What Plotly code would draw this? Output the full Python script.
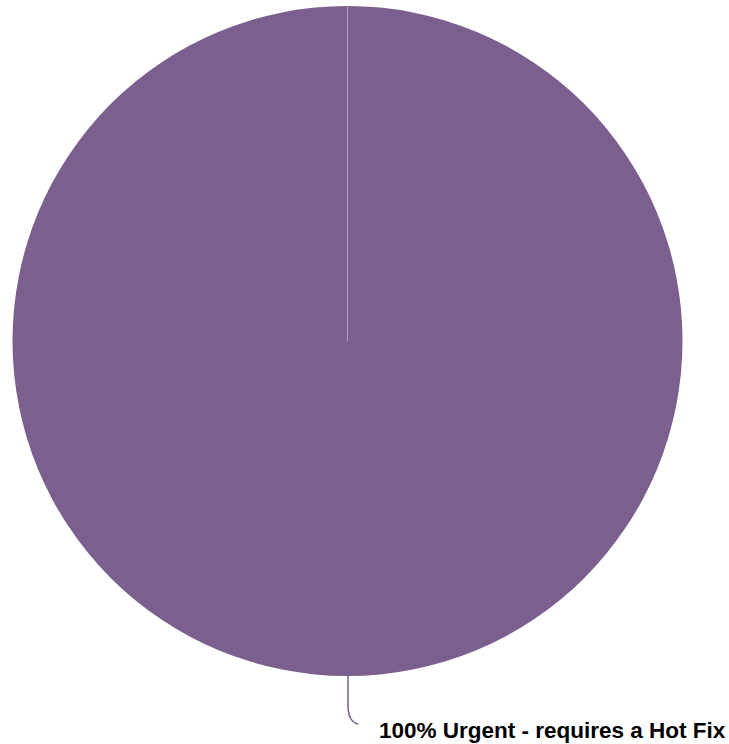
import plotly.graph_objects as go

labels = ["Urgent - requires a Hot Fix"]
values = [100]
colors = ["#7b608f"]

W, H = 729, 744

def px(x):
    return x / W

def py(y):
    return 1 - y / H

fig = go.Figure()
fig.add_trace(go.Pie(
    labels=labels,
    values=values,
    marker=dict(colors=colors, line=dict(width=0)),
    textinfo="none",
    sort=False,
    direction="clockwise",
    showlegend=False,
    domain=dict(x=[px(12), px(683)], y=[py(676), py(6)]),
    hoverinfo="label+percent",
))

# leader line from bottom of pie to the label
path = (f"M {px(348)},{py(676)} L {px(348)},{py(708)} "
        f"Q {px(349)},{py(722)} {px(358)},{py(724)}")
fig.add_shape(type="path", path=path, xref="paper", yref="paper",
              line=dict(color="#7b608f", width=1.5))
# slice boundary line at top
fig.add_shape(type="line", xref="paper", yref="paper",
              x0=px(347.5), y0=py(341), x1=px(347.5), y1=py(6),
              line=dict(color="rgba(255,255,255,0.4)", width=1))

pct = f"{values[0] / sum(values) * 100:.0f}%"
fig.add_annotation(
    x=px(377), y=py(730), xref="paper", yref="paper",
    xanchor="left", yanchor="middle",
    text=f"<b>{pct} {labels[0]}</b>", showarrow=False,
    font=dict(family="Liberation Sans, Arial, sans-serif", size=22.5, color="#000000"),
)

fig.update_layout(
    width=W, height=H,
    margin=dict(l=0, r=0, t=0, b=0),
    paper_bgcolor="white", plot_bgcolor="white",
)
fig.write_html(
    "out.html",
    config={"displayModeBar": False},
    post_script="document.body.style.margin='0';document.body.style.overflow='hidden';",
)
